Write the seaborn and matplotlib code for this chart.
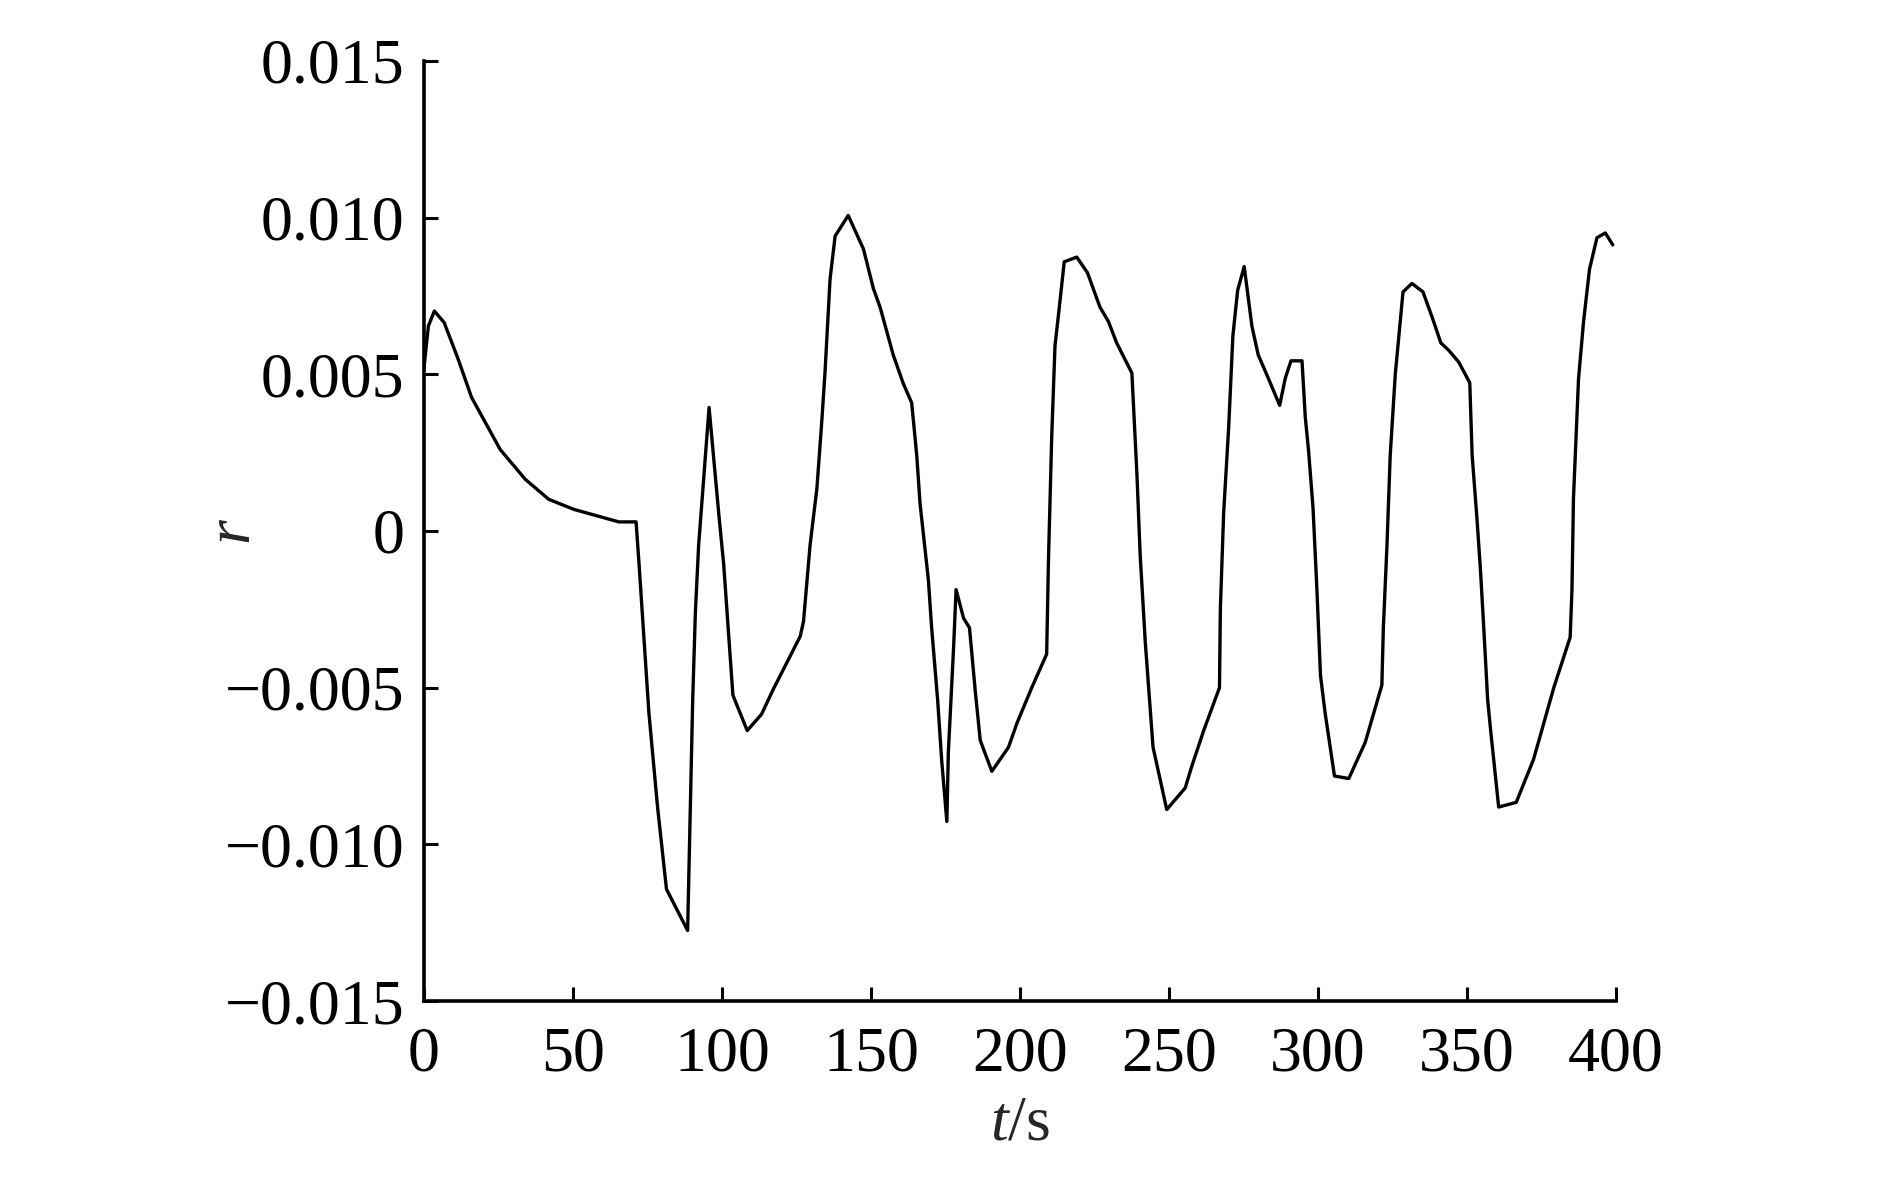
import numpy as np
import pandas as pd
import matplotlib
matplotlib.use("Agg")
import matplotlib.pyplot as plt
import seaborn as sns

t_values = [0, 1.5, 3.5, 6.8, 11.5, 16, 25.6, 34, 41.9, 50.3, 65.4, 71.2,
            72.2, 75.5, 78.4, 81.4, 88.5, 90.2, 91.1, 92.2, 95.7, 99, 100.6,
            103.7, 108.5, 113.3, 117.2, 126.3, 127.4, 129.6, 131.9, 133.5,
            134.6, 136.3, 138, 142.4, 147.5, 148.6, 150.8, 153.1, 157.5,
            160.9, 163.7, 165.4, 166.5, 169.3, 170.4, 172.4, 173.8, 175.5,
            176.0, 177.7, 178.6, 181.1, 183.1, 185.0, 186.7, 190.6, 196.2,
            199.0, 204.0, 209.0, 209.6, 210.7, 211.8, 212.9, 214.9, 219.1,
            222.7, 226.9, 229.7, 232.5, 237.6, 238.1, 239.3, 240.4, 242.1,
            244.7, 249.3, 255.5, 257.7, 261.7, 267.0, 267.3, 268.4, 270.1,
            271.5, 273.1, 275.3, 277.9, 280.0, 283.5, 287.2, 289.1, 291.0,
            294.7, 295.8, 296.9, 298.4, 299.7, 300.9, 302.5, 305.6, 310.4,
            315.9, 321.5, 322.0, 323.2, 324.3, 326.0, 328.6, 331.6, 335.3,
            338.6, 341.3, 343.9, 347.3, 351.0, 351.8, 353.4, 354.6, 355.7,
            357.0, 358.1, 360.7, 366.6, 372.4, 374.7, 379.2, 384.7, 385.3,
            385.8, 387.5, 389.2, 391.2, 393.7, 396.5, 399.0]
r_values = [0.0052, 0.00654, 0.00702, 0.00665, 0.00548, 0.00426, 0.0026,
            0.00165, 0.00101, 0.00069, 0.00029, 0.00029,
            -0.00106, -0.0058, -0.0088, -0.01143, -0.01275, -0.0054, -0.0026,
            -0.00045, 0.00394, 0.0005, -0.00106,
            -0.00524, -0.00637, -0.00585, -0.00506, -0.00336, -0.00288,
            -0.00045, 0.00137, 0.00346,
            0.00505, 0.00803, 0.00941, 0.01007, 0.00900, 0.00859, 0.00775,
            0.00714, 0.00562,
            0.0047, 0.00409, 0.00241, 0.00088, -0.00156, -0.00309, -0.00538,
            -0.00736, -0.00927,
            -0.00706, -0.00385, -0.00187, -0.00278, -0.00309, -0.00507,
            -0.00668, -0.00767, -0.0069,
            -0.00614, -0.005, -0.00393, -0.00095, 0.00302, 0.00592, 0.00684,
            0.00859, 0.00874,
            0.00824, 0.00714, 0.00669, 0.006, 0.00504, 0.00409, 0.0018,
            -0.0008, -0.00355,
            -0.0069, -0.00889, -0.0082, -0.00751, -0.00637, -0.005, -0.00248,
            0.00058, 0.00333,
            0.00623, 0.00768, 0.00844, 0.00653, 0.00562, 0.00485, 0.00401,
            0.00488, 0.00543,
            0.00543, 0.00363, 0.00256, 0.00073, -0.00187, -0.00461, -0.00584,
            -0.00782, -0.0079,
            -0.00675, -0.00492, -0.00309, -0.00049, 0.00241, 0.005, 0.00763,
            0.0079, 0.00763,
            0.00676, 0.006, 0.00577, 0.00539, 0.00473, 0.00241, 0.00042,
            -0.00126, -0.00309,
            -0.00538, -0.00645, -0.00881, -0.00866, -0.00729, -0.00652,
            -0.005, -0.00339, -0.00187,
            0.00103, 0.00485, 0.00669, 0.00836, 0.00936, 0.00951, 0.00913]

x_ticks = [0, 50, 100, 150, 200, 250, 300, 350, 400]
x_tick_labels = ["0", "50", "100", "150", "200", "250", "300", "350", "400"]
y_ticks = [-0.015, -0.010, -0.005, 0, 0.005, 0.010, 0.015]
y_tick_labels = ["\u22120.015", "\u22120.010", "\u22120.005", "0",
                 "0.005", "0.010", "0.015"]

sns.set_style("ticks")
plt.rcParams["font.family"] = ["Liberation Serif", "DejaVu Serif"]
plt.rcParams["mathtext.fontset"] = "custom"
plt.rcParams["mathtext.rm"] = "Liberation Serif"
plt.rcParams["mathtext.it"] = "Liberation Serif:italic"

fig = plt.figure(figsize=(18.9, 11.81), dpi=100)
ax = fig.add_axes([0.2243, 0.1524, 0.8549 - 0.2243, 0.9484 - 0.1524])

df = pd.DataFrame({"t": t_values, "r": r_values})
sns.lineplot(data=df, x="t", y="r", ax=ax, color="black", linewidth=2.4,
             estimator=None, sort=False)

ax.set_xlim(0, 400)
ax.set_ylim(-0.015, 0.015)
ax.set_xticks(x_ticks)
ax.set_xticklabels(x_tick_labels)
ax.set_yticks(y_ticks)
ax.set_yticklabels(y_tick_labels)
ax.tick_params(direction="in", length=10, width=2.2, labelsize=46,
               colors="black")
ax.tick_params(axis="x", pad=18)
ax.tick_params(axis="y", pad=14)
for side in ["top", "right"]:
    ax.spines[side].set_visible(False)
for side in ["left", "bottom"]:
    ax.spines[side].set_linewidth(2.6)
    ax.spines[side].set_color("black")

ax.set_xlabel("$t$/s", fontsize=46, labelpad=8)
ax.set_ylabel("$r$", fontsize=46, labelpad=-28)

fig.savefig("out.png", dpi=100, facecolor="white")
